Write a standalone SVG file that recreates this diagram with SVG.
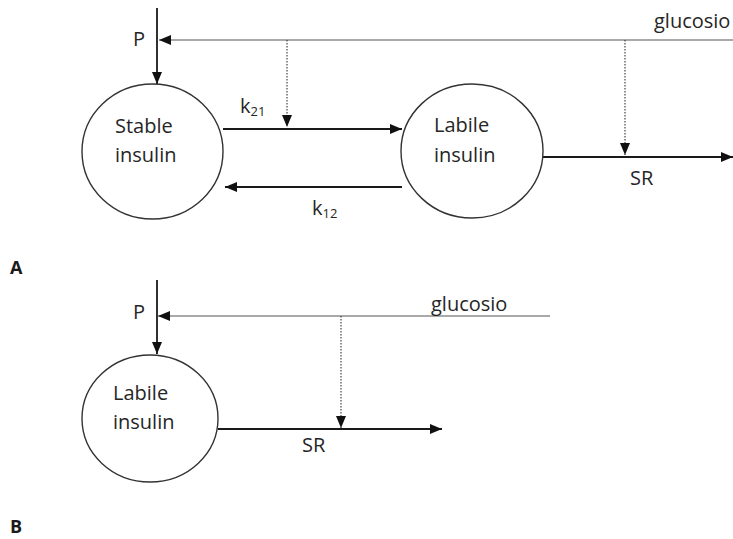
<svg xmlns="http://www.w3.org/2000/svg" width="733" height="539" viewBox="0 0 733 539">
<defs>
<marker id="ah" markerUnits="userSpaceOnUse" markerWidth="12" markerHeight="10" refX="12" refY="5" orient="auto">
<path d="M0,0 L12,5 L0,10 z" fill="#111"/>
</marker>
</defs>
<style>
.t{font-family:"Open Sans","Liberation Sans",sans-serif;font-size:20px;fill:#262626}
.s{font-size:13px}
.lbl{font-family:"Open Sans","Liberation Sans",sans-serif;font-size:18px;font-weight:bold;fill:#1a1a1a}
.node{fill:#fff;stroke:#333;stroke-width:1.4}
.arr{stroke:#1a1a1a;stroke-width:1.8;fill:none}
.glu{stroke:#555;stroke-width:1.1;fill:none}
.dot{stroke:#444;stroke-width:1.2;stroke-dasharray:1.5 1.5;fill:none}
</style>
<rect width="733" height="539" fill="#fff"/>
<g id="connectors">
<line class="arr" x1="157" y1="8" x2="157" y2="84" marker-end="url(#ah)"/>
<line class="glu" x1="733" y1="40" x2="159" y2="40" marker-end="url(#ah)"/>
<line class="dot" x1="287" y1="40" x2="287" y2="127" marker-end="url(#ah)"/>
<line class="dot" x1="625" y1="40" x2="625" y2="155" marker-end="url(#ah)"/>
<line class="arr" x1="223" y1="129" x2="402" y2="129" marker-end="url(#ah)"/>
<line class="arr" x1="402" y1="187" x2="225" y2="187" marker-end="url(#ah)"/>
<line class="arr" x1="543" y1="157" x2="733" y2="157" marker-end="url(#ah)"/>
<line class="arr" x1="157" y1="280" x2="157" y2="354" marker-end="url(#ah)"/>
<line class="glu" x1="550" y1="316" x2="158" y2="316" marker-end="url(#ah)"/>
<line class="dot" x1="341" y1="316" x2="341" y2="428" marker-end="url(#ah)"/>
<line class="arr" x1="218" y1="429" x2="442" y2="429" marker-end="url(#ah)"/>
</g>
<g id="stableA">
<ellipse class="node" cx="152.5" cy="151.5" rx="70.5" ry="67.5"/>
<text class="t" x="115" y="133">Stable</text>
<text class="t" x="115" y="162">insulin</text>
</g>
<g id="labileA">
<ellipse class="node" cx="472" cy="151" rx="71" ry="67"/>
<text class="t" x="434" y="132">Labile</text>
<text class="t" x="434" y="162">insulin</text>
</g>
<g id="labileB">
<ellipse class="node" cx="150" cy="418.5" rx="68" ry="63.5"/>
<text class="t" x="113" y="400">Labile</text>
<text class="t" x="113" y="429">insulin</text>
</g>
<g id="labels">
<text class="t" x="133" y="46" font-size="19">P</text>
<text class="t" x="654" y="28">glucosio</text>
<text class="t" x="240" y="113">k<tspan class="s" dy="3">21</tspan></text>
<text class="t" x="312" y="215">k<tspan class="s" dy="3">12</tspan></text>
<text class="t" x="630" y="185">SR</text>
<text class="lbl" x="10" y="274">A</text>
<text class="t" x="133" y="319">P</text>
<text class="t" x="431" y="311">glucosio</text>
<text class="t" x="302" y="452">SR</text>
<text class="lbl" x="10" y="533">B</text>
</g>
</svg>
